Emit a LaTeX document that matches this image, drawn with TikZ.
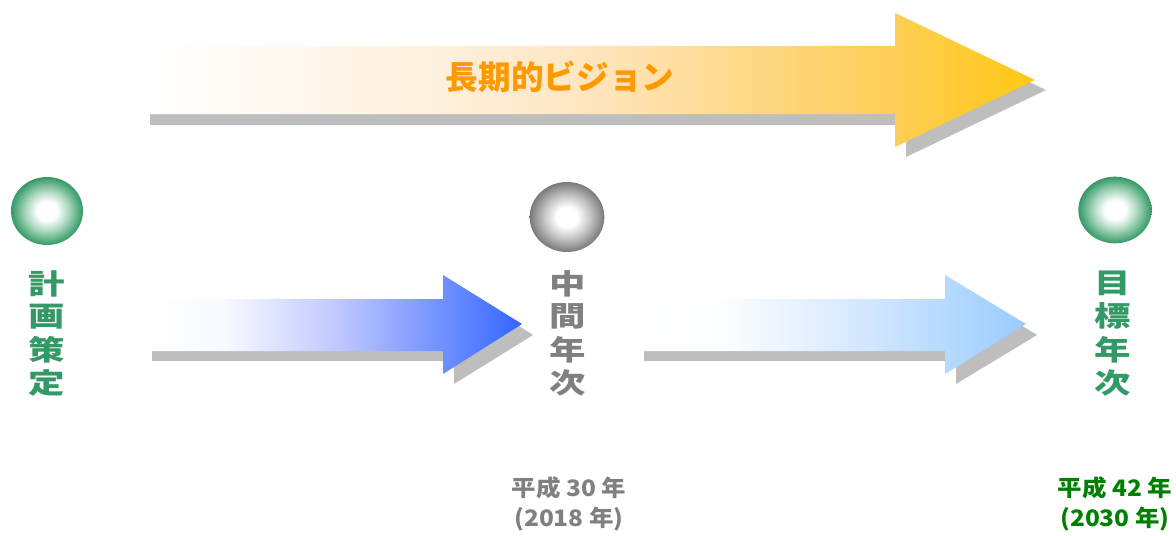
\documentclass[tikz,border=0pt]{standalone}
\usepackage{fontspec}
\usepackage{graphicx}
\newfontfamily\jp{Noto Sans CJK JP}
\usetikzlibrary{shapes.geometric}
\definecolor{shadowgray}{RGB}{190,190,190}
\definecolor{titleorange}{RGB}{255,153,0}
\definecolor{yelA}{RGB}{255,241,222}
\definecolor{yelB}{RGB}{254,229,190}
\definecolor{yelC}{RGB}{253,206,85}
\definecolor{yelend}{RGB}{255,200,20}
\definecolor{bluemid}{RGB}{192,200,255}
\definecolor{blueend}{RGB}{51,102,255}
\definecolor{lbluemid}{RGB}{222,236,255}
\definecolor{lblueend}{RGB}{153,204,255}
\definecolor{ballgreen}{RGB}{51,153,102}
\definecolor{ballgreenmid}{RGB}{170,215,190}
\definecolor{ballgray}{RGB}{122,122,122}
\definecolor{ballgraymid}{RGB}{200,200,200}
\definecolor{labgreen}{RGB}{51,153,102}
\definecolor{labgray}{RGB}{128,128,128}
\definecolor{yeargreen}{RGB}{0,128,0}
\pgfdeclareradialshading{greenball}{\pgfpoint{0bp}{0bp}}{color(0bp)=(white); color(7bp)=(white); color(15bp)=(ballgreenmid); color(25bp)=(ballgreen); color(50bp)=(ballgreen)}
\pgfdeclareradialshading{grayball}{\pgfpoint{0bp}{0bp}}{color(0bp)=(white); color(7bp)=(white); color(15bp)=(ballgraymid); color(25bp)=(ballgray); color(50bp)=(ballgray)}
\pgfdeclarehorizontalshading{yelshade}{100bp}{color(0bp)=(white); color(25bp)=(white); color(41bp)=(yelA); color(50bp)=(yelB); color(67bp)=(yelC); color(75bp)=(yelend); color(100bp)=(yelend)}
\pgfdeclarehorizontalshading{blueshade}{100bp}{color(0bp)=(white); color(25bp)=(white); color(35bp)=(white!96!blueend); color(50bp)=(bluemid); color(75bp)=(blueend); color(100bp)=(blueend)}
\pgfdeclarehorizontalshading{lblueshade}{100bp}{color(0bp)=(white); color(25bp)=(white); color(35bp)=(white!97!lblueend); color(50bp)=(lbluemid); color(75bp)=(lblueend); color(100bp)=(lblueend)}
\begin{document}
\begin{tikzpicture}[x=0.75pt,y=-0.75pt,
  shadowshape/.style={fill=shadowgray, draw=none},
  ball/.style={ellipse, inner sep=0pt, draw=none},
  vlabel/.style={font=\jp\bfseries\fontsize{21}{24}\selectfont, inner sep=0pt},
  yearlabel/.style={font=\jp\bfseries\fontsize{17}{22.5}\selectfont, inner sep=0pt},
  title/.style={font=\jp\bfseries\fontsize{24.5}{28}\selectfont, inner sep=0pt, text=titleorange}]
\useasboundingbox (0,0) rectangle (1176,535);
% long-term vision arrow
\fill[shadowshape] (150,57) -- (906,57) -- (906,23) -- (1046,90) -- (906,157) -- (906,125) -- (150,125) -- cycle;
\shade[shading=yelshade] (150,46) -- (895,46) -- (895,13) -- (1035,80) -- (895,147) -- (895,114) -- (150,114) -- cycle;
\node[title] (vision) at (560,77) {長期的ビジョン};
% blue arrow 1
\fill[shadowshape] (152,309) -- (454,309) -- (454,285) -- (533,335) -- (454,384) -- (454,361) -- (152,361) -- cycle;
\shade[shading=blueshade] (152,299) -- (443,299) -- (443,275) -- (522,324) -- (443,374) -- (443,351) -- (152,351) -- cycle;
% blue arrow 2
\fill[shadowshape] (644,309) -- (956,309) -- (956,285) -- (1037,335) -- (956,384) -- (956,361) -- (644,361) -- cycle;
\shade[shading=lblueshade] (644,299) -- (945,299) -- (945,275) -- (1026,324) -- (945,374) -- (945,351) -- (644,351) -- cycle;
% balls
\node[ball, shade, shading=greenball, minimum width=54pt, minimum height=51pt] (b1) at (47,211) {};
\node[ball, shade, shading=grayball, minimum width=56pt, minimum height=52.5pt] (b2) at (567,217) {};
\node[ball, shade, shading=greenball, minimum width=55pt, minimum height=50pt] (b3) at (1115,210) {};
% vertical labels
\node[vlabel, text=labgreen] (l1) at (47,337) {\scalebox{1.3}[1]{\begin{tabular}{@{}c@{}}計\\画\\策\\定\end{tabular}}};
\node[vlabel, text=labgray] (l2) at (568,337) {\scalebox{1.3}[1]{\begin{tabular}{@{}c@{}}中\\間\\年\\次\end{tabular}}};
\node[vlabel, text=labgreen] (l3) at (1113,337) {\scalebox{1.3}[1]{\begin{tabular}{@{}c@{}}目\\標\\年\\次\end{tabular}}};
% year labels
\node[yearlabel, text=labgray] (y1) at (569,505) {\scalebox{1.08}[1]{\begin{tabular}{@{}c@{}}平成 30 年\\(2018 年)\end{tabular}}};
\node[yearlabel, text=yeargreen] (y2) at (1115,505) {\scalebox{1.08}[1]{\begin{tabular}{@{}c@{}}平成 42 年\\(2030 年)\end{tabular}}};
\end{tikzpicture}
\end{document}
